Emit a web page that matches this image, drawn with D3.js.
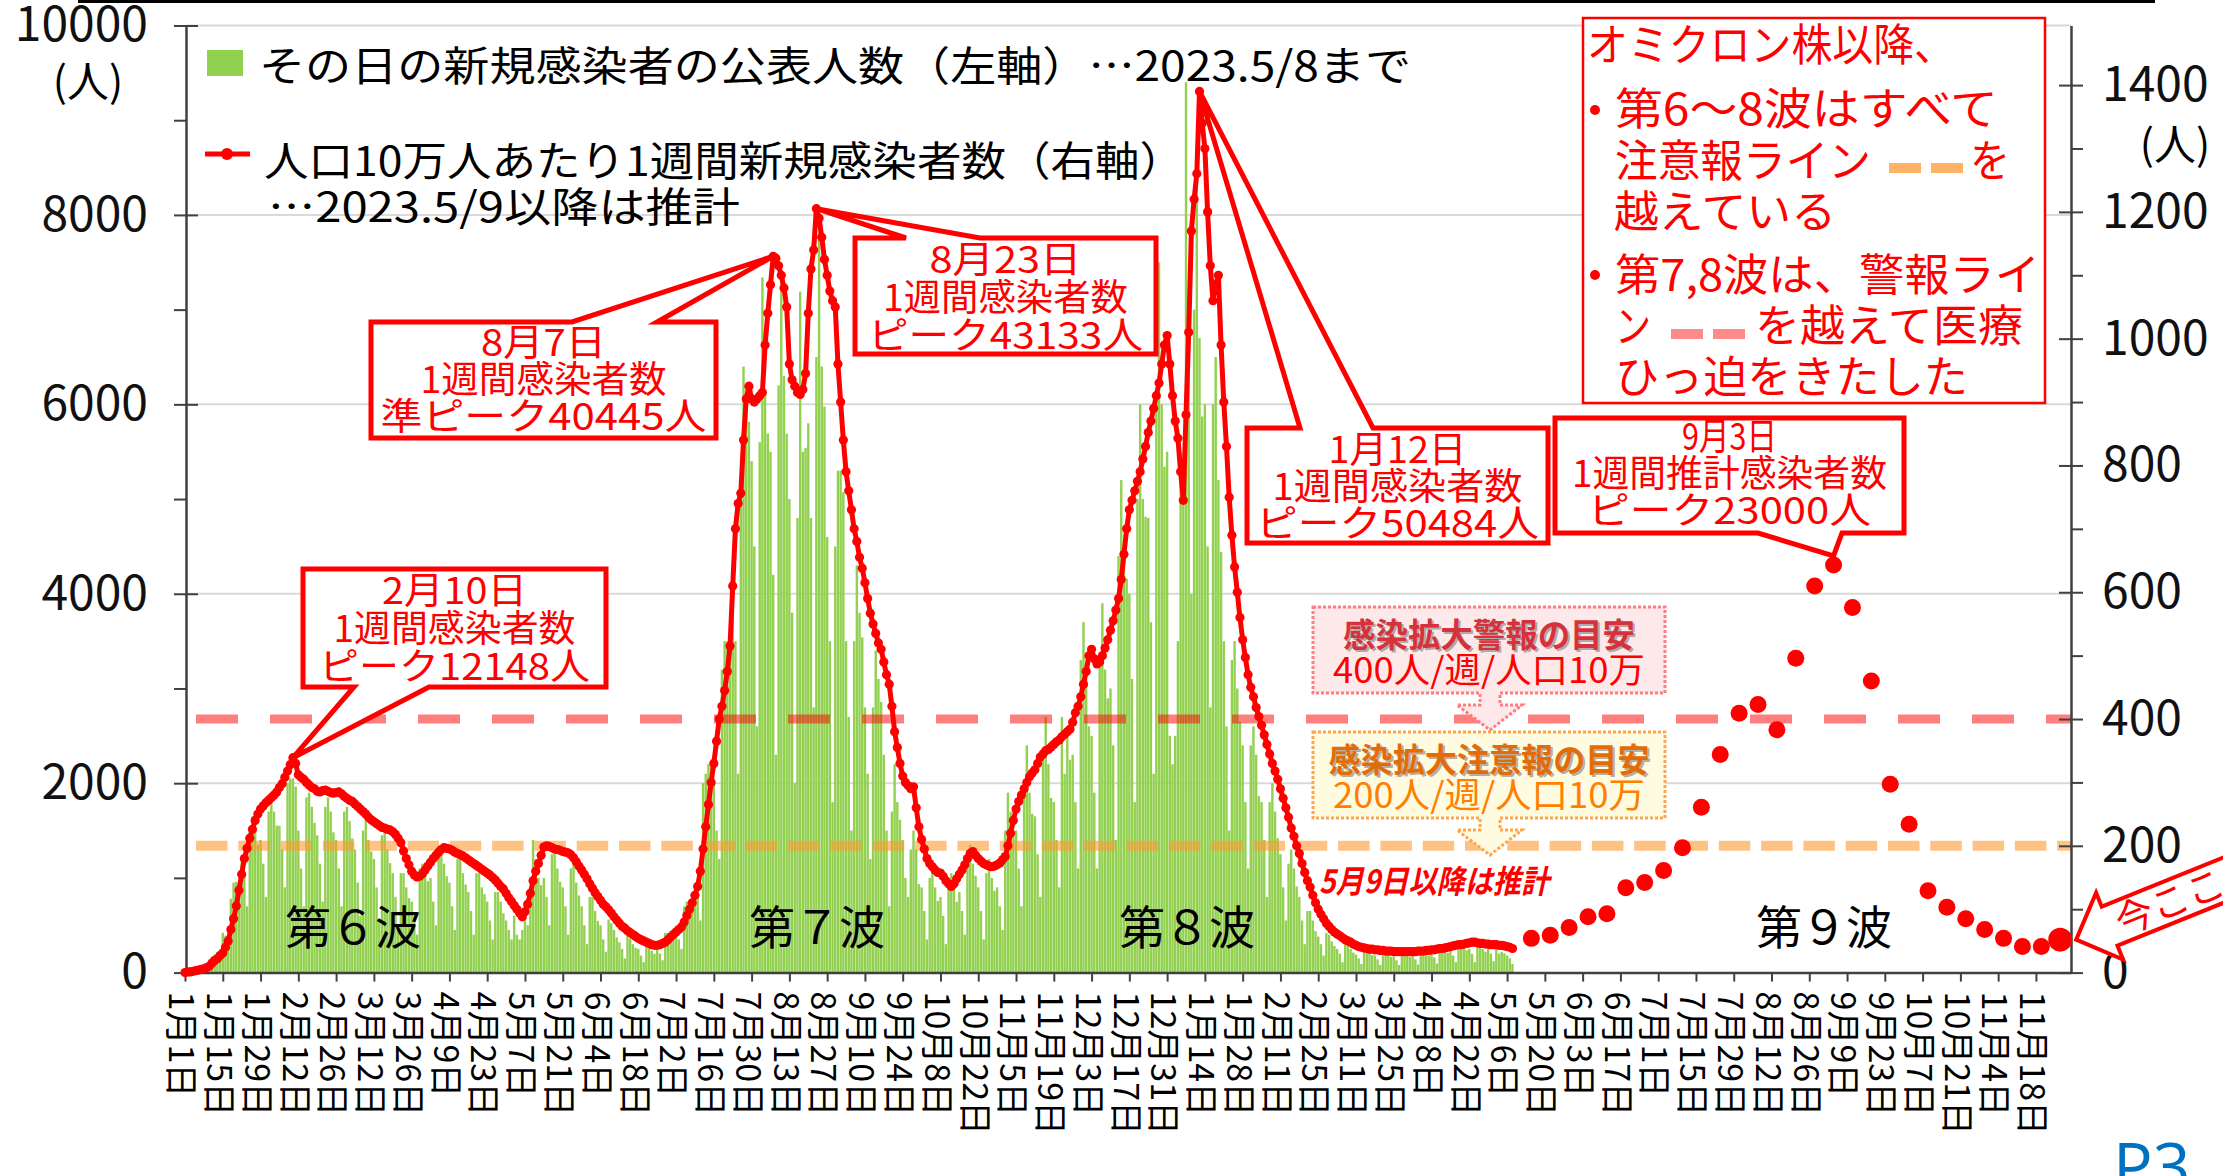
<!DOCTYPE html>
<html lang="ja">
<head>
<meta charset="utf-8">
<script src="https://cdn.jsdelivr.net/npm/d3@7"></script>
<style>
  html, body { margin: 0; padding: 0; background: #fff; }
  svg { display: block; font-family: "Noto Sans CJK JP", "Noto Sans", sans-serif; }
</style>
</head>
<body>
<svg id="chart" width="2223" height="1176"></svg>
<script>
// --- data ---
const dataStart = "2022-01-01";   // first daily value
const axisStart = "2022-01-01";
const axisEnd = "2023-12-01";

// daily new cases (left axis), 2022-01-01 .. 2023-05-08, one row per week (Sat..Fri)
const dailyCases = [
  10, 12, 15, 30, 35, 37, 40,
  70, 80, 60, 170, 190, 200, 197,
  420, 390, 280, 780, 950, 960, 874,
  1200, 1050, 700, 1500, 1650, 1500, 1350,
  1400, 1150, 800, 1700, 1900, 1700, 1553,
  1550, 1300, 900, 2000, 2050, 2050, 1964,
  1500, 1100, 700, 1850, 1900, 1750, 1582,
  1450, 1150, 750, 1750, 1850, 1700, 1481,
  1400, 1100, 700, 1700, 1750, 1600, 1416,
  1300, 950, 600, 1500, 1600, 1400, 1278,
  1200, 900, 550, 1450, 1500, 1300, 1155,
  1050, 800, 450, 1050, 1050, 900, 786,
  750, 600, 400, 1100, 1150, 1050, 964,
  1000, 750, 500, 1300, 1300, 1150, 1017,
  950, 700, 450, 1200, 1200, 1050, 930,
  850, 650, 400, 1050, 1050, 900, 828,
  750, 550, 350, 850, 850, 750, 626,
  550, 450, 350, 600, 400, 350, 450,
  700, 500, 900, 1400, 1200, 1000, 923,
  1000, 800, 500, 1250, 1300, 1100, 959,
  900, 700, 400, 1100, 1150, 950, 814,
  700, 500, 300, 800, 800, 650, 546,
  500, 350, 220, 560, 520, 450, 371,
  320, 250, 150, 400, 360, 300, 261,
  250, 180, 110, 290, 280, 230, 199,
  240, 200, 130, 420, 420, 390, 348,
  450, 350, 250, 700, 750, 730, 708,
  900, 800, 550, 2000, 2100, 2200, 2190,
  2000, 1500, 1200, 3200, 3500, 3500, 3537,
  4200, 3500, 2100, 5200, 6400, 5900, 5815,
  5400, 4500, 2600, 5600, 7340, 6100, 5692,
  5500, 4200, 2300, 6200, 7400, 6300, 5690,
  5000, 3800, 2000, 4800, 7190, 5500, 5541,
  5800, 4800, 2800, 6500, 8000, 6400, 5975,
  4600, 3500, 1800, 4500, 5300, 5300, 5072,
  3500, 2700, 1500, 3500, 4300, 3800, 3540,
  2800, 2100, 1200, 2800, 3400, 3100, 2858,
  2300, 1500, 700, 1700, 2200, 1800, 1614,
  1400, 1000, 800, 1300, 1500, 1300, 934,
  900, 650, 350, 1000, 1100, 900, 756,
  800, 600, 300, 900, 1050, 900, 748,
  850, 650, 400, 1200, 1350, 1150, 1023,
  900, 650, 350, 1050, 1200, 1000, 864,
  900, 700, 450, 1500, 1900, 1700, 1442,
  1500, 1100, 700, 2000, 2400, 1900, 1677,
  1650, 1250, 800, 2300, 2700, 2200, 1845,
  1800, 1400, 900, 2700, 2100, 2600, 2247,
  2300, 1800, 1100, 3300, 3700, 3100, 2600,
  2500, 1900, 1100, 3300, 3900, 3200, 2895,
  3000, 2400, 1400, 4400, 5200, 4500, 4160,
  4000, 3100, 1800, 5000, 6000, 5000, 4814,
  4800, 3700, 2100, 6000, 7500, 6000, 5342,
  5500, 2500, 2200, 2500, 3500, 5500, 4971,
  9400, 6500, 4000, 7000, 8500, 6700, 5872,
  6000, 4500, 2800, 6000, 6500, 5200, 4442,
  3500, 2600, 1500, 3300, 3500, 3000, 2648,
  2400, 1800, 1100, 2400, 2600, 2300, 1863,
  1800, 1400, 800, 1800, 2000, 1700, 1419,
  1250, 900, 550, 1150, 1300, 1100, 910,
  800, 550, 300, 650, 650, 550, 438,
  380, 300, 180, 420, 400, 330, 281,
  250, 200, 110, 300, 290, 250, 211,
  190, 150, 90, 250, 240, 220, 185,
  180, 140, 80, 230, 220, 200, 167,
  170, 130, 80, 220, 215, 200, 166,
  180, 140, 85, 230, 230, 210, 178,
  200, 160, 95, 260, 270, 240, 207,
  230, 180, 110, 300, 310, 280, 237,
  250, 200, 110, 290, 290, 250, 221,
  260, 200, 120, 300, 200, 220, 204,
  180, 150, 90
];

// 1-week cases per 100k (right axis), same days as dailyCases
const weeklyPer100k = [
  0, 1, 1, 2, 3, 4, 5,
  6, 8, 10, 15, 19, 22, 27,
  31, 40, 50, 68, 85, 105, 130,
  155, 180, 196, 212, 226, 240, 250,
  258, 263, 268, 272, 276, 280, 285,
  292, 298, 308, 318, 328, 339, 330,
  312, 308, 305, 300, 296, 292, 290,
  286, 285, 287, 288, 286, 284, 283,
  284, 285, 282, 278, 275, 272, 270,
  266, 262, 258, 254, 250, 245, 241,
  238, 235, 232, 229, 228, 226, 225,
  222, 218, 212, 205, 192, 180, 170,
  160, 154, 151, 152, 156, 162, 168,
  174, 180, 185, 190, 194, 197, 196,
  195, 193, 190, 188, 186, 184, 181,
  178, 175, 172, 169, 166, 163, 160,
  157, 154, 150, 146, 141, 136, 132,
  125, 118, 112, 106, 100, 94, 88,
  96, 108, 125, 145, 160, 172, 185,
  198, 200, 199, 197, 195, 194, 193,
  191, 190, 189, 186, 181, 175, 168,
  162, 155, 148, 140, 133, 126, 120,
  114, 108, 104, 99, 94, 88, 83,
  78, 73, 70, 66, 63, 60, 57,
  54, 52, 50, 48, 46, 44, 43,
  43, 44, 46, 48, 52, 56, 60,
  64, 68, 72, 80, 90, 100, 110,
  122, 136, 160, 195, 230, 265, 300,
  330, 365, 400, 420, 445, 475, 515,
  610, 700, 740, 756, 840, 905, 925,
  905, 900, 905, 910, 915, 990, 1040,
  1085, 1130, 1127, 1115, 1100, 1080, 1050,
  960, 935, 925, 915, 912, 920, 945,
  1040, 1110, 1140, 1205, 1190, 1160, 1125,
  1100, 1075, 1060, 1050, 960, 900, 840,
  790, 760, 730, 700, 680, 655, 638,
  615, 590, 567, 550, 535, 520, 510,
  490, 470, 455, 420, 380, 355, 330,
  310, 300, 295, 290, 293, 260, 230,
  210, 195, 180, 172, 167, 162, 158,
  157, 152, 145, 140, 136, 140, 148,
  155, 162, 170, 180, 188, 191, 185,
  180, 176, 172, 170, 168, 167, 168,
  170, 173, 178, 183, 200, 220, 240,
  258, 270, 280, 290, 300, 309, 315,
  320, 330, 340, 345, 350, 352, 356,
  360, 364, 367, 372, 376, 380, 384,
  395, 410, 420, 435, 455, 475, 500,
  510, 495, 487, 490, 500, 512, 525,
  540, 555, 572, 590, 620, 660, 700,
  730, 745, 760, 775, 790, 810, 830,
  852, 870, 890, 910, 930, 960, 990,
  1005, 960, 910, 870, 843, 790, 745,
  880, 1010, 1170, 1220, 1260, 1390, 1340,
  1300, 1200, 1115, 1060, 1085, 1100, 990,
  900, 830, 750, 690, 640, 600, 560,
  525, 497, 470, 450, 435, 418, 404,
  390, 375, 360, 345, 330, 318, 305,
  290, 275, 260, 245, 228, 215, 200,
  188, 172, 158, 145, 135, 122, 110,
  100, 92, 85, 78, 73, 68, 64,
  61, 58, 55, 52, 50, 48, 45,
  43, 41, 40, 39, 38, 37, 37,
  36, 36, 35, 35, 34, 34, 34,
  33, 33, 33, 33, 33, 33, 33,
  33, 33, 34, 34, 34, 35, 35,
  36, 36, 37, 38, 38, 39, 40,
  41, 42, 43, 44, 44, 45, 46,
  47, 48, 48, 47, 46, 46, 45,
  45, 44, 44, 44, 43, 43, 42,
  41, 40, 38
];

// weekly estimates per 100k after 2023-05-09 (one dot per week)
const estimateStart = "2023-05-15";
const estimatePer100k = [54, 59, 71, 88, 93, 134, 142, 161, 197, 261, 344, 409, 423, 383,
  496, 610, 643, 576, 460, 297, 234, 129, 103, 85, 68, 54, 41, 41, 52];

const xTickLabels = ["1月1日", "1月15日", "1月29日", "2月12日", "2月26日", "3月12日", "3月26日",
  "4月9日", "4月23日", "5月7日", "5月21日", "6月4日", "6月18日", "7月2日", "7月16日", "7月30日",
  "8月13日", "8月27日", "9月10日", "9月24日", "10月8日", "10月22日", "11月5日", "11月19日",
  "12月3日", "12月17日", "12月31日", "1月14日", "1月28日", "2月11日", "2月25日", "3月11日",
  "3月25日", "4月8日", "4月22日", "5月6日", "5月20日", "6月3日", "6月17日", "7月1日", "7月15日",
  "7月29日", "8月12日", "8月26日", "9月9日", "9月23日", "10月7日", "10月21日", "11月4日", "11月18日"];
const leftTicks = d3.range(0, 10001, 1000);
const rightTicks = d3.range(0, 1401, 100);
const alertLevel = 400;     // 警報
const cautionLevel = 200;   // 注意報
const peakDays = { feb10: 40, aug7: 218, aug23: 234, jan12: 376 };  // indexes into weeklyPer100k
const estimatePeakIndex = 16;

// --- setup ---
const parseDay = d3.timeParse("%Y-%m-%d");
const start = parseDay(dataStart);
const dayAt = i => d3.timeDay.offset(start, i);
const estStart = parseDay(estimateStart);

const x = d3.scaleTime().domain([parseDay(axisStart), parseDay(axisEnd)]).range([185, 2071]);
const yL = d3.scaleLinear().domain([0, 10000]).range([972.6, 25.5]);
const yR = d3.scaleLinear().domain([0, 1494]).range([972.6, 25.5]);
const plotLeft = 186, plotRight = 2071;

const svg = d3.select("#chart");
const RED = "#ff0000";

// top rule
svg.append("rect").attr("x", 78).attr("y", 0).attr("width", 2077).attr("height", 3).attr("fill", "#000");

// gridlines
svg.append("g").selectAll("line")
  .data(leftTicks.filter(v => v > 0 && v % 2000 === 0))
  .enter().append("line")
  .attr("x1", plotLeft).attr("x2", plotRight)
  .attr("y1", d => yL(d)).attr("y2", d => yL(d))
  .attr("stroke", "#d9d9d9").attr("stroke-width", 2);

// bars
svg.append("g").selectAll("rect")
  .data(dailyCases)
  .enter().append("rect")
  .attr("x", (d, i) => x(dayAt(i)) - 1.2)
  .attr("width", 2.4)
  .attr("y", d => yL(d))
  .attr("height", d => yL(0) - yL(d))
  .attr("fill", "#92d050");

// reference levels
svg.append("line")
  .attr("x1", 196).attr("x2", plotRight)
  .attr("y1", yR(alertLevel)).attr("y2", yR(alertLevel))
  .attr("stroke", "#ff0000").attr("stroke-opacity", 0.5)
  .attr("stroke-width", 9).attr("stroke-dasharray", "42 32");
svg.append("line")
  .attr("x1", 196).attr("x2", plotRight)
  .attr("y1", yR(cautionLevel)).attr("y2", yR(cautionLevel))
  .attr("stroke", "#ff9933").attr("stroke-opacity", 0.6)
  .attr("stroke-width", 10).attr("stroke-dasharray", "31.5 10.8");

// axes
const axisColor = "#404040";
const axL = d3.axisLeft(yL).tickValues(leftTicks).tickSize(12).tickPadding(26).tickSizeOuter(0)
  .tickFormat(v => v % 2000 === 0 ? v : "");
const gL = svg.append("g").attr("transform", `translate(${plotLeft},0)`).call(axL);
gL.selectAll(".tick line").attr("x1", v => v % 2000 === 0 ? 12 : 0);
gL.selectAll(".tick text").attr("font-size", 48).attr("fill", "#111");

const axR = d3.axisRight(yR).tickValues(rightTicks).tickSize(12).tickPadding(19).tickSizeOuter(0)
  .tickFormat(v => v % 200 === 0 ? v : "");
const gR = svg.append("g").attr("transform", `translate(${plotRight},0)`).call(axR);
gR.selectAll(".tick line").attr("x1", v => v % 200 === 0 ? -12 : 0);
gR.selectAll(".tick text").attr("font-size", 48).attr("fill", "#111");

const tickDates = xTickLabels.map((_, i) => dayAt(14 * i));
const axB = d3.axisBottom(x).tickValues(tickDates).tickSize(9).tickSizeOuter(0)
  .tickFormat((d, i) => xTickLabels[i]);
const gB = svg.append("g").attr("transform", `translate(0,${yL(0)})`).call(axB);
gB.selectAll(".tick text")
  .attr("transform", "rotate(90)")
  .attr("x", 19).attr("y", 4).attr("dy", "0.36em")
  .attr("text-anchor", "start")
  .attr("font-size", 34).attr("fill", "#000");

[gL, gR, gB].forEach(g => {
  g.attr("font-family", null).attr("font-size", null);
  g.select(".domain").attr("stroke", axisColor).attr("stroke-width", 2.5);
  g.selectAll(".tick line").attr("stroke", axisColor).attr("stroke-width", 2);
});

// weekly line with daily markers
const line = d3.line().x((d, i) => x(dayAt(i))).y(d => yR(d));
svg.append("path").datum(weeklyPer100k)
  .attr("d", line).attr("fill", "none")
  .attr("stroke", RED).attr("stroke-width", 5).attr("stroke-linejoin", "round");
svg.append("g").selectAll("circle")
  .data(weeklyPer100k)
  .enter().append("circle")
  .attr("cx", (d, i) => x(dayAt(i))).attr("cy", d => yR(d))
  .attr("r", 4.6).attr("fill", RED);

// estimated weekly dots
const estDate = i => d3.timeDay.offset(estStart, 7 * i);
svg.append("g").selectAll("circle")
  .data(estimatePer100k)
  .enter().append("circle")
  .attr("cx", (d, i) => x(estDate(i))).attr("cy", d => yR(d))
  .attr("r", (d, i) => i === estimatePer100k.length - 1 ? 12 : 8.5)
  .attr("fill", RED);

// axis unit labels
svg.append("text").attr("x", 88).attr("y", 97).attr("text-anchor", "middle")
  .attr("font-size", 42).text("(人)");
svg.append("text").attr("x", 2175).attr("y", 160).attr("text-anchor", "middle")
  .attr("font-size", 42).text("(人)");

// legend
svg.append("rect").attr("x", 207).attr("y", 50).attr("width", 36).attr("height", 26).attr("fill", "#92d050");
svg.append("text").attr("x", 259).attr("y", 81).attr("font-size", 41)
  .attr("textLength", 1152).attr("lengthAdjust", "spacingAndGlyphs")
  .text("その日の新規感染者の公表人数（左軸）…2023.5/8まで");
svg.append("line").attr("x1", 205).attr("x2", 250).attr("y1", 154).attr("y2", 154)
  .attr("stroke", RED).attr("stroke-width", 5);
svg.append("circle").attr("cx", 227).attr("cy", 154).attr("r", 6).attr("fill", RED);
svg.append("text").attr("x", 264).attr("y", 176).attr("font-size", 41)
  .attr("textLength", 920).attr("lengthAdjust", "spacingAndGlyphs")
  .text("人口10万人あたり1週間新規感染者数（右軸）");
svg.append("text").attr("x", 268).attr("y", 222).attr("font-size", 41)
  .attr("textLength", 472).attr("lengthAdjust", "spacingAndGlyphs")
  .text("…2023.5/9以降は推計");

// wave labels
[["第６波", 353], ["第７波", 817], ["第８波", 1187], ["第９波", 1824]].forEach(([t, cx]) => {
  svg.append("text").attr("x", cx).attr("y", 944).attr("text-anchor", "middle")
    .attr("font-size", 46).attr("textLength", 136).attr("lengthAdjust", "spacing").text(t);
});

svg.append("text").attr("x", 1319).attr("y", 893).attr("font-size", 32)
  .attr("font-style", "italic").attr("font-weight", "bold").attr("fill", RED)
  .attr("textLength", 230).attr("lengthAdjust", "spacingAndGlyphs")
  .text("5月9日以降は推計");

// callouts
function callout(box, ptr, lines) {
  const { x: bx, y: by, w, h } = box;
  let p;
  if (ptr.side === "top") {
    p = [[bx, by], [ptr.b1, by], [ptr.tx, ptr.ty], [ptr.b2, by], [bx + w, by], [bx + w, by + h], [bx, by + h]];
  } else {
    p = [[bx, by], [bx + w, by], [bx + w, by + h], [ptr.b2, by + h], [ptr.tx, ptr.ty], [ptr.b1, by + h], [bx, by + h]];
  }
  const g = svg.append("g");
  g.append("path").attr("d", "M" + p.join("L") + "Z")
    .attr("fill", "#fff").attr("stroke", RED).attr("stroke-width", 5).attr("stroke-linejoin", "miter");
  lines.forEach(l => {
    g.append("text").attr("x", bx + w / 2).attr("y", l.y).attr("text-anchor", "middle")
      .attr("font-size", 37).attr("fill", RED)
      .attr("textLength", l.len).attr("lengthAdjust", "spacingAndGlyphs").text(l.t);
  });
}

const tip = i => ({ tx: x(dayAt(i)), ty: yR(weeklyPer100k[i]) });
callout({ x: 303, y: 569, w: 303, h: 118 },
  { side: "bottom", b1: 354, b2: 429, ...tip(peakDays.feb10) },
  [{ t: "2月10日", y: 604, len: 145 }, { t: "1週間感染者数", y: 642, len: 242 }, { t: "ピーク12148人", y: 680, len: 271 }]);
callout({ x: 371, y: 322, w: 345, h: 116 },
  { side: "top", b1: 572, b2: 657, ...tip(peakDays.aug7) },
  [{ t: "8月7日", y: 356, len: 125 }, { t: "1週間感染者数", y: 393, len: 246 }, { t: "準ピーク40445人", y: 430, len: 326 }]);
callout({ x: 855, y: 238, w: 301, h: 116 },
  { side: "top", b1: 906, b2: 980, ...tip(peakDays.aug23) },
  [{ t: "8月23日", y: 273, len: 152 }, { t: "1週間感染者数", y: 311, len: 245 }, { t: "ピーク43133人", y: 349, len: 275 }]);
callout({ x: 1247, y: 428, w: 301, h: 115 },
  { side: "top", b1: 1300, b2: 1373, ...tip(peakDays.jan12) },
  [{ t: "1月12日", y: 463, len: 138 }, { t: "1週間感染者数", y: 500, len: 250 }, { t: "ピーク50484人", y: 537, len: 283 }]);
callout({ x: 1555, y: 418, w: 349, h: 115 },
  { side: "bottom", b1: 1758, b2: 1842, tx: x(estDate(estimatePeakIndex)), ty: yR(estimatePer100k[estimatePeakIndex]) - 9 },
  [{ t: "9月3日", y: 450, len: 95 }, { t: "1週間推計感染者数", y: 487, len: 315 }, { t: "ピーク23000人", y: 524, len: 283 }]);

// level boxes with down arrows
function levelBox(y0, fill, border, c1, c2, t1, t2, len1, len2) {
  const g = svg.append("g");
  const bx = 1313, w = 352, h = 86, ax = 1490;
  const p = [[bx, y0], [bx + w, y0], [bx + w, y0 + h], [ax + 10, y0 + h], [ax + 10, y0 + h + 12],
    [ax + 32, y0 + h + 12], [ax, y0 + h + 37], [ax - 33, y0 + h + 12], [ax - 10, y0 + h + 12], [ax - 10, y0 + h], [bx, y0 + h]];
  g.append("path").attr("d", "M" + p.join("L") + "Z").attr("fill", fill)
    .attr("stroke", border).attr("stroke-width", 3).attr("stroke-dasharray", "3 2");
  const cx = bx + w / 2;
  g.append("text").attr("x", cx + 2).attr("y", y0 + 42).attr("text-anchor", "middle")
    .attr("font-size", 33).attr("font-weight", "bold").attr("fill", "#7f7f7f").attr("opacity", 0.6)
    .attr("textLength", len1).attr("lengthAdjust", "spacingAndGlyphs").text(t1);
  g.append("text").attr("x", cx).attr("y", y0 + 40).attr("text-anchor", "middle")
    .attr("font-size", 33).attr("font-weight", "bold").attr("fill", c1)
    .attr("textLength", len1).attr("lengthAdjust", "spacingAndGlyphs").text(t1);
  g.append("text").attr("x", cx).attr("y", y0 + 76).attr("text-anchor", "middle")
    .attr("font-size", 35).attr("fill", c2)
    .attr("textLength", len2).attr("lengthAdjust", "spacingAndGlyphs").text(t2);
}
levelBox(607, "#fde9ea", "#ff7c80", "#d6323c", RED, "感染拡大警報の目安", "400人/週/人口10万", 292, 312);
levelBox(732, "#fffbe0", "#ffa64d", "#e36c09", "#ff8000", "感染拡大注意報の目安", "200人/週/人口10万", 321, 312);

// Omicron note
const note = svg.append("g");
note.append("rect").attr("x", 1583).attr("y", 18).attr("width", 462).attr("height", 385)
  .attr("fill", "#fff").attr("stroke", RED).attr("stroke-width", 2.5);
const noteLines = [
  { t: "オミクロン株以降、", x: 1587, y: 61, len: 368 },
  { t: "第6～8波はすべて", x: 1615, y: 125, len: 383 },
  { t: "注意報ライン", x: 1615, y: 177, len: 256 },
  { t: "を", x: 1970, y: 177, len: 40 },
  { t: "越えている", x: 1614, y: 228, len: 222 },
  { t: "第7,8波は、警報ライ", x: 1615, y: 291, len: 425 },
  { t: "ン", x: 1615, y: 342, len: 36 },
  { t: "を越えて医療", x: 1755, y: 342, len: 268 },
  { t: "ひっ迫をきたした", x: 1615, y: 393, len: 353 }
];
noteLines.forEach(l => {
  note.append("text").attr("x", l.x).attr("y", l.y).attr("font-size", 44).attr("fill", RED)
    .attr("textLength", l.len).attr("lengthAdjust", "spacingAndGlyphs").text(l.t);
});
[110, 275].forEach(cy => note.append("circle").attr("cx", 1595).attr("cy", cy).attr("r", 5).attr("fill", RED));
[[1889, 163, "#ffb366"], [1931, 163, "#ffb366"], [1671, 329, "#ff8a8a"], [1713, 329, "#ff8a8a"]].forEach(([dx, dy, c]) => {
  note.append("rect").attr("x", dx).attr("y", dy).attr("width", 32).attr("height", 10).attr("fill", c);
});

// "今ここ" pointer
const now = svg.append("g").attr("transform", `translate(${x(estDate(estimatePer100k.length - 1)) + 16},${yR(estimatePer100k[estimatePer100k.length - 1])}) rotate(-22)`);
now.append("path").attr("d", "M0,0L36,-36L36,-21L170,-21L170,21L36,21L36,36Z")
  .attr("fill", "#fff").attr("stroke", RED).attr("stroke-width", 4);
now.append("text").attr("x", 44).attr("y", 14).attr("font-size", 38).attr("fill", RED).text("今ここ");

// page number
svg.append("text").attr("x", 2113).attr("y", 1190).attr("font-size", 66).attr("fill", "#0070c0")
  .attr("font-family", "'Open Sans', sans-serif").text("P3");
</script>
</body>
</html>
